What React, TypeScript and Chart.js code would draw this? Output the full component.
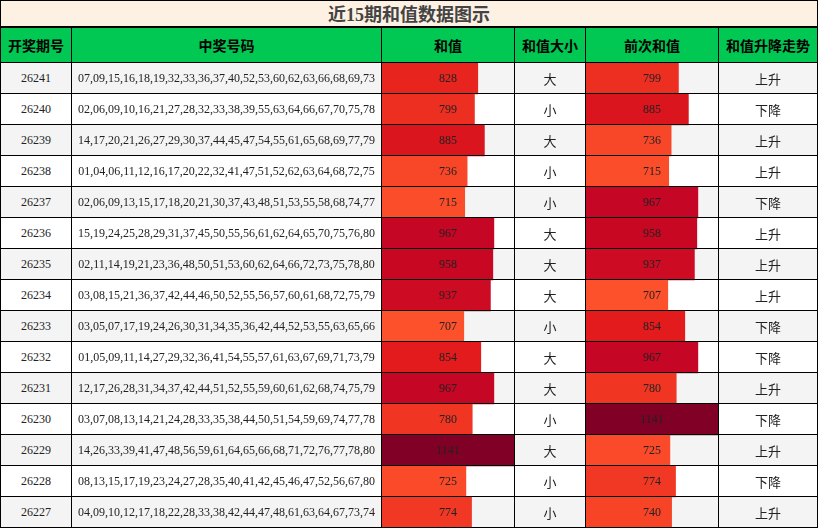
import { useEffect, useRef } from 'react';
import { Chart, registerables } from 'chart.js';

Chart.register(...registerables);

const title = '近15期和值数据图示';
const headers = ['开奖期号', '中奖号码', '和值', '和值大小', '前次和值', '和值升降走势'];

const periods = ['26241', '26240', '26239', '26238', '26237', '26236', '26235', '26234', '26233', '26232', '26231', '26230', '26229', '26228', '26227'];

const drawNumbers = [
    '07,09,15,16,18,19,32,33,36,37,40,52,53,60,62,63,66,68,69,73',
    '02,06,09,10,16,21,27,28,32,33,38,39,55,63,64,66,67,70,75,78',
    '14,17,20,21,26,27,29,30,37,44,45,47,54,55,61,65,68,69,77,79',
    '01,04,06,11,12,16,17,20,22,32,41,47,51,52,62,63,64,68,72,75',
    '02,06,09,13,15,17,18,20,21,30,37,43,48,51,53,55,58,68,74,77',
    '15,19,24,25,28,29,31,37,45,50,55,56,61,62,64,65,70,75,76,80',
    '02,11,14,19,21,23,36,48,50,51,53,60,62,64,66,72,73,75,78,80',
    '03,08,15,21,36,37,42,44,46,50,52,55,56,57,60,61,68,72,75,79',
    '03,05,07,17,19,24,26,30,31,34,35,36,42,44,52,53,55,63,65,66',
    '01,05,09,11,14,27,29,32,36,41,54,55,57,61,63,67,69,71,73,79',
    '12,17,26,28,31,34,37,42,44,51,52,55,59,60,61,62,68,74,75,79',
    '03,07,08,13,14,21,24,28,33,35,38,44,50,51,54,59,69,74,77,78',
    '14,26,33,39,41,47,48,56,59,61,64,65,66,68,71,72,76,77,78,80',
    '08,13,15,17,19,23,24,27,28,35,40,41,42,45,46,47,52,56,67,80',
    '04,09,10,12,17,18,22,28,33,38,42,44,47,48,61,63,64,67,73,74',
];

const sumValues = [828, 799, 885, 736, 715, 967, 958, 937, 707, 854, 967, 780, 1141, 725, 774];
const prevSumValues = [799, 885, 736, 715, 967, 958, 937, 707, 854, 967, 780, 1141, 725, 774, 740];
const sizeLabels = ['大', '小', '大', '小', '小', '大', '大', '大', '小', '大', '大', '小', '大', '小', '小'];
const trendLabels = ['上升', '下降', '上升', '上升', '下降', '上升', '上升', '上升', '下降', '下降', '上升', '下降', '上升', '下降', '上升'];

// table geometry
const colEdges = [0, 71, 381, 514, 585, 718, 817];
const TITLE_H = 26;
const HEAD_TOP = 28;
const ROW_TOP = 62;
const ROW_H = 31;

const serif = '"Liberation Serif", "Noto Sans CJK SC", serif';
const cjk = '"Noto Sans CJK SC", sans-serif';

// YlOrRd stops, value scaled by the max
const heatStops = ['#ffffcc', '#ffeda0', '#fed976', '#feb24c', '#fd8d3c', '#fc4e2a', '#e31a1c', '#bd0026', '#800026'];

function hexToRgb(h: string) {
    return [parseInt(h.slice(1, 3), 16), parseInt(h.slice(3, 5), 16), parseInt(h.slice(5, 7), 16)];
}

function heatColor(v: number, max: number) {
    const t = Math.max(0, Math.min(1, v / max)) * (heatStops.length - 1);
    const i = Math.min(Math.floor(t), heatStops.length - 2);
    const f = t - i;
    const a = hexToRgb(heatStops[i]);
    const b = hexToRgb(heatStops[i + 1]);
    const c = a.map((x, k) => Math.round(x + (b[k] - x) * f));
    return `rgb(${c[0]},${c[1]},${c[2]})`;
}

const maxSum = Math.max(...sumValues, ...prevSumValues);

const valueLabels = {
    id: 'valueLabels',
    afterDatasetsDraw(chart: any) {
        const { ctx, chartArea } = chart;
        const meta = chart.getDatasetMeta(0);
        const data = chart.data.datasets[0].data as number[];
        ctx.save();
        ctx.font = '12px "Liberation Serif"';
        ctx.fillStyle = '#222';
        ctx.textAlign = 'center';
        ctx.textBaseline = 'middle';
        meta.data.forEach((bar: any, i: number) => {
            ctx.fillText(String(data[i]), (chartArea.left + chartArea.right) / 2, bar.y);
        });
        ctx.restore();
    },
};

function BarColumn({ values, left, width }: { values: number[]; left: number; width: number }) {
    const canvasRef = useRef<HTMLCanvasElement | null>(null);

    useEffect(() => {
        if (!canvasRef.current) return;
        const ctx = canvasRef.current.getContext('2d');
        if (!ctx) return;

        const chart = new Chart(ctx, {
            type: 'bar',
            data: {
                labels: periods,
                datasets: [
                    {
                        data: values,
                        backgroundColor: values.map((v) => heatColor(v, maxSum)),
                        borderWidth: 0,
                        barPercentage: 1,
                        categoryPercentage: 1,
                    },
                ],
            },
            options: {
                indexAxis: 'y',
                responsive: false,
                animation: false,
                events: [],
                layout: { padding: 0 },
                scales: {
                    x: { display: false, min: 0, max: maxSum },
                    y: { display: false },
                },
                plugins: {
                    legend: { display: false },
                    tooltip: { enabled: false },
                },
            },
            plugins: [valueLabels],
        });

        return () => chart.destroy();
    }, [values]);

    return (
        <canvas
            ref={canvasRef}
            width={width}
            height={ROW_H * periods.length}
            style={{ position: 'absolute', left, top: ROW_TOP + 1, width, height: ROW_H * periods.length }}
        />
    );
}

function Cell({ col, top, height, children, style }: any) {
    return (
        <div
            style={{
                position: 'absolute',
                left: colEdges[col] + 1,
                width: colEdges[col + 1] - colEdges[col] - 1,
                top,
                height,
                display: 'flex',
                alignItems: 'center',
                justifyContent: 'center',
                whiteSpace: 'nowrap',
                ...style,
            }}
        >
            {children}
        </div>
    );
}

export default function App() {
    const n = periods.length;
    const bottom = ROW_TOP + ROW_H * n;

    const hLines = [0, 26, 27, ROW_TOP];
    for (let i = 1; i <= n; i++) hLines.push(ROW_TOP + ROW_H * i);

    return (
        <div style={{ position: 'absolute', left: 0, top: 0, width: 818, height: 528, background: '#fff', overflow: 'hidden' }}>
            {/* title */}
            <div
                style={{
                    position: 'absolute',
                    left: 0,
                    top: 0,
                    width: 818,
                    height: TITLE_H,
                    background: '#fdf1e3',
                    display: 'flex',
                    alignItems: 'center',
                    justifyContent: 'center',
                    font: `bold 18px ${serif}`,
                    color: '#444',
                }}
            >
                {title}
            </div>

            {/* header */}
            <div style={{ position: 'absolute', left: 0, top: HEAD_TOP, width: 818, height: ROW_TOP - HEAD_TOP, background: '#00c853' }} />
            {headers.map((h, c) => (
                <Cell key={h} col={c} top={HEAD_TOP} height={ROW_TOP - HEAD_TOP} style={{ font: `bold 14px ${cjk}`, color: '#000' }}>
                    {h}
                </Cell>
            ))}

            {/* row backgrounds */}
            {periods.map((p, i) => (
                <div
                    key={'bg' + p}
                    style={{
                        position: 'absolute',
                        left: 0,
                        top: ROW_TOP + ROW_H * i,
                        width: 818,
                        height: ROW_H,
                        background: i % 2 === 0 ? '#f4f4f4' : '#ffffff',
                    }}
                />
            ))}

            <BarColumn values={sumValues} left={colEdges[2] + 1} width={colEdges[3] - colEdges[2] - 1} />
            <BarColumn values={prevSumValues} left={colEdges[4] + 1} width={colEdges[5] - colEdges[4] - 1} />

            {/* text cells */}
            {periods.map((p, i) => {
                const top = ROW_TOP + ROW_H * i + 1;
                return (
                    <div key={'row' + p}>
                        <Cell col={0} top={top} height={ROW_H - 1} style={{ font: `12px ${serif}`, color: '#222' }}>
                            {p}
                        </Cell>
                        <Cell col={1} top={top} height={ROW_H - 1} style={{ font: `12px ${serif}`, color: '#222' }}>
                            {drawNumbers[i]}
                        </Cell>
                        <Cell col={3} top={top} height={ROW_H - 1} style={{ font: `13px ${cjk}`, color: '#222' }}>
                            {sizeLabels[i]}
                        </Cell>
                        <Cell col={5} top={top} height={ROW_H - 1} style={{ font: `13px ${cjk}`, color: '#222' }}>
                            {trendLabels[i]}
                        </Cell>
                    </div>
                );
            })}

            {/* grid lines */}
            {hLines.map((y, k) => (
                <div key={'h' + k} style={{ position: 'absolute', left: 0, top: y, width: 818, height: 1, background: '#000' }} />
            ))}
            <div style={{ position: 'absolute', left: 0, top: 0, width: 1, height: bottom + 1, background: '#000' }} />
            <div style={{ position: 'absolute', left: 817, top: 0, width: 1, height: bottom + 1, background: '#000' }} />
            {colEdges.slice(1, -1).map((x) => (
                <div key={'v' + x} style={{ position: 'absolute', left: x, top: 27, width: 1, height: bottom - 27, background: '#000' }} />
            ))}
        </div>
    );
}
